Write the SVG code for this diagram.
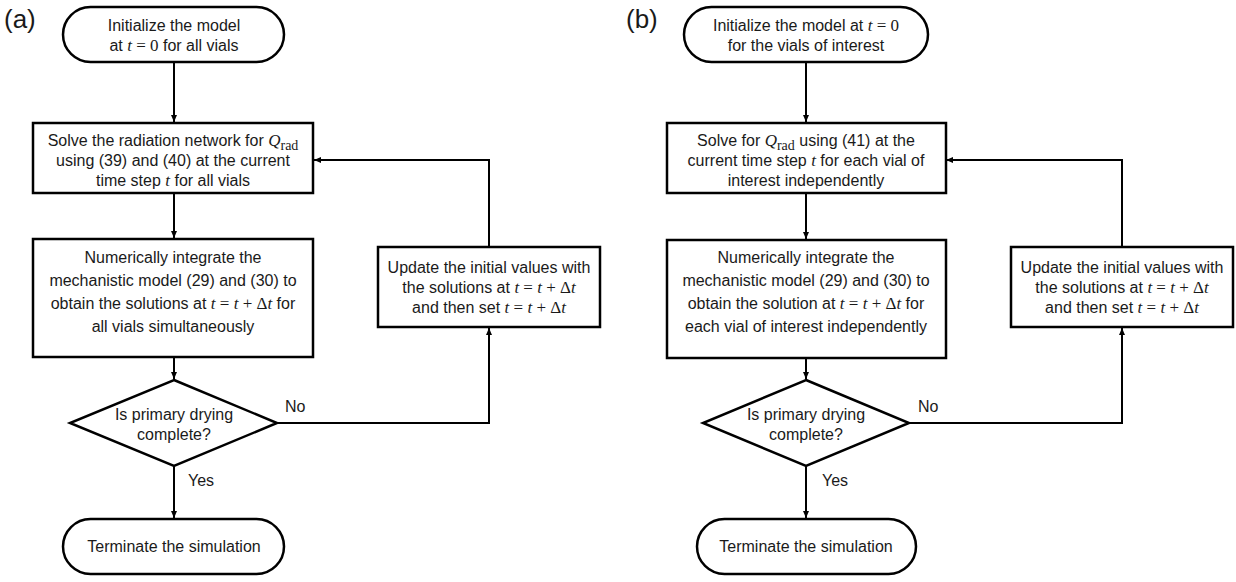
<svg xmlns="http://www.w3.org/2000/svg" width="1236" height="582" viewBox="0 0 1236 582">
<style>
.shape{fill:#fff;stroke:#000;stroke-width:2.5}
.conn{fill:none;stroke:#000;stroke-width:2}
text{font-family:"Liberation Sans",Arial,sans-serif;font-size:16px;fill:#1a1a1a;text-anchor:middle}
.lbl{font-size:26px;text-anchor:start}
.m{font-family:"Liberation Serif","Times New Roman",serif;font-style:italic;font-size:17px}
.mu{font-family:"Liberation Serif","Times New Roman",serif;font-size:17px}
.sub{font-family:"Liberation Serif","Times New Roman",serif;font-size:14px}
.side{text-anchor:start}
</style>
<defs>
<marker id="ah" markerUnits="userSpaceOnUse" markerWidth="8" markerHeight="8" refX="7" refY="4" orient="auto">
<path d="M0,1 L7,4 L0,7 Z" fill="#000"/>
</marker>
</defs>

<text class="lbl" x="4" y="28">(a)</text>
<text class="lbl" x="626" y="28">(b)</text>

<g id="connectors">
<line class="conn" x1="174" y1="62" x2="174" y2="122" marker-end="url(#ah)"/>
<line class="conn" x1="174" y1="193" x2="174" y2="238" marker-end="url(#ah)"/>
<line class="conn" x1="174" y1="357" x2="174" y2="379" marker-end="url(#ah)"/>
<line class="conn" x1="174" y1="466" x2="174" y2="518" marker-end="url(#ah)"/>
<polyline class="conn" points="277,423 489,423 489,328" marker-end="url(#ah)"/>
<polyline class="conn" points="489,247 489,160 314,160" marker-end="url(#ah)"/>

<line class="conn" x1="806" y1="62" x2="806" y2="122" marker-end="url(#ah)"/>
<line class="conn" x1="806" y1="193" x2="806" y2="239" marker-end="url(#ah)"/>
<line class="conn" x1="806" y1="358" x2="806" y2="379" marker-end="url(#ah)"/>
<line class="conn" x1="806" y1="466" x2="806" y2="518" marker-end="url(#ah)"/>
<polyline class="conn" points="909,423 1122,423 1122,328" marker-end="url(#ah)"/>
<polyline class="conn" points="1122,247 1122,160 946,160" marker-end="url(#ah)"/>
</g>

<g id="a-start">
<rect class="shape" x="63" y="7" width="221" height="55" rx="27.5" ry="27.5"/>
<text x="174" y="31">Initialize the model</text>
<text x="174" y="51">at <tspan class="m">t</tspan><tspan class="mu"> = 0</tspan> for all vials</text>
</g>
<g id="a-solve">
<rect class="shape" x="33" y="123" width="280" height="70"/>
<text x="173" y="146">Solve the radiation network for <tspan class="m">Q</tspan><tspan class="sub" dy="4">rad</tspan></text>
<text x="173" y="166">using (39) and (40) at the current</text>
<text x="173" y="186">time step <tspan class="m">t</tspan> for all vials</text>
</g>
<g id="a-integrate">
<rect class="shape" x="33" y="239" width="280" height="118"/>
<text x="173" y="263">Numerically integrate the</text>
<text x="173" y="286">mechanistic model (29) and (30) to</text>
<text x="173" y="309">obtain the solutions at <tspan class="m">t</tspan><tspan class="mu"> = </tspan><tspan class="m">t</tspan><tspan class="mu"> + Δ</tspan><tspan class="m">t</tspan> for</text>
<text x="173" y="332">all vials simultaneously</text>
</g>
<g id="a-decision">
<polygon class="shape" points="174,380 277,423 174,466 70,423"/>
<text x="174" y="420">Is primary drying</text>
<text x="174" y="440">complete?</text>
</g>
<g id="a-end">
<rect class="shape" x="63" y="519" width="221" height="55" rx="27.5" ry="27.5"/>
<text x="174" y="552">Terminate the simulation</text>
</g>
<g id="a-update">
<rect class="shape" x="378" y="247" width="222" height="80"/>
<text x="489" y="273">Update the initial values with</text>
<text x="489" y="293">the solutions at <tspan class="m">t</tspan><tspan class="mu"> = </tspan><tspan class="m">t</tspan><tspan class="mu"> + Δ</tspan><tspan class="m">t</tspan></text>
<text x="489" y="313">and then set <tspan class="m">t</tspan><tspan class="mu"> = </tspan><tspan class="m">t</tspan><tspan class="mu"> + Δ</tspan><tspan class="m">t</tspan></text>
</g>
<g id="a-labels">
<text class="side" x="285" y="412">No</text>
<text class="side" x="188" y="486">Yes</text>
</g>

<g id="b-start">
<rect class="shape" x="684" y="7" width="244" height="55" rx="27.5" ry="27.5"/>
<text x="806" y="31">Initialize the model at <tspan class="m">t</tspan><tspan class="mu"> = 0</tspan></text>
<text x="806" y="51">for the vials of interest</text>
</g>
<g id="b-solve">
<rect class="shape" x="667" y="123" width="279" height="70"/>
<text x="806" y="146">Solve for <tspan class="m">Q</tspan><tspan class="sub" dy="4">rad</tspan><tspan dy="-4"> using (41) at the</tspan></text>
<text x="806" y="166">current time step <tspan class="m">t</tspan> for each vial of</text>
<text x="806" y="186">interest independently</text>
</g>
<g id="b-integrate">
<rect class="shape" x="667" y="240" width="279" height="118"/>
<text x="806" y="263">Numerically integrate the</text>
<text x="806" y="286">mechanistic model (29) and (30) to</text>
<text x="806" y="309">obtain the solution at <tspan class="m">t</tspan><tspan class="mu"> = </tspan><tspan class="m">t</tspan><tspan class="mu"> + Δ</tspan><tspan class="m">t</tspan> for</text>
<text x="806" y="332">each vial of interest independently</text>
</g>
<g id="b-decision">
<polygon class="shape" points="806,380 909,423 806,466 703,423"/>
<text x="806" y="420">Is primary drying</text>
<text x="806" y="440">complete?</text>
</g>
<g id="b-end">
<rect class="shape" x="697" y="519" width="219" height="55" rx="27.5" ry="27.5"/>
<text x="806" y="552">Terminate the simulation</text>
</g>
<g id="b-update">
<rect class="shape" x="1011" y="247" width="222" height="80"/>
<text x="1122" y="273">Update the initial values with</text>
<text x="1122" y="293">the solutions at <tspan class="m">t</tspan><tspan class="mu"> = </tspan><tspan class="m">t</tspan><tspan class="mu"> + Δ</tspan><tspan class="m">t</tspan></text>
<text x="1122" y="313">and then set <tspan class="m">t</tspan><tspan class="mu"> = </tspan><tspan class="m">t</tspan><tspan class="mu"> + Δ</tspan><tspan class="m">t</tspan></text>
</g>
<g id="b-labels">
<text class="side" x="918" y="412">No</text>
<text class="side" x="822" y="486">Yes</text>
</g>
</svg>
